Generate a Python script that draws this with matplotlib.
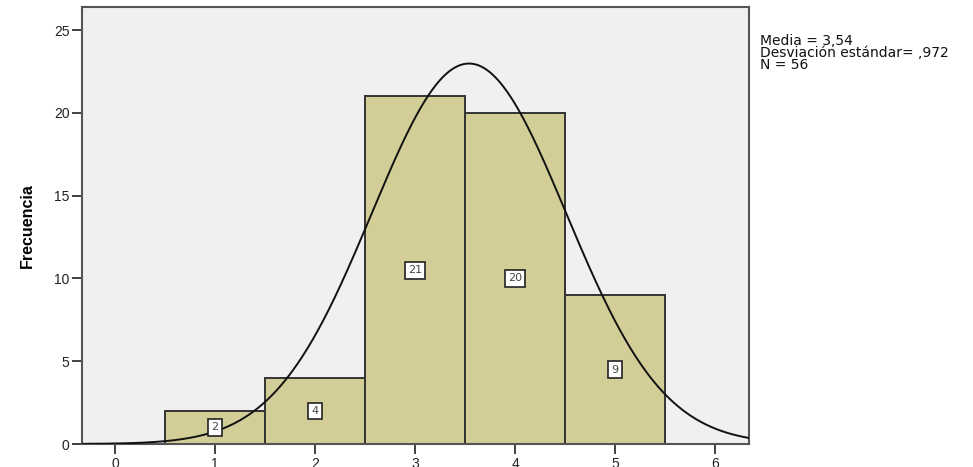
import numpy as np
import matplotlib
matplotlib.use("Agg")
import matplotlib.pyplot as plt

plt.rcParams['font.family'] = ['Liberation Sans', 'DejaVu Sans']

bin_centers = [1, 2, 3, 4, 5]
counts = [2, 4, 21, 20, 9]
mean_val = 3.54
std_val = 0.972
n_total = 56
stats_lines = ["Media = 3,54", "Desviación estándar= ,972", "N = 56"]
x_ticks = [0, 1, 2, 3, 4, 5, 6]
y_ticks = [0, 5, 10, 15, 20, 25]

fig = plt.figure(figsize=(9.73, 4.67), dpi=100)
ax = fig.add_axes([82/973, 23/467, (749-82)/973, (444-7)/467])
ax.set_facecolor('#F0F0F0')

ax.bar(bin_centers, counts, width=1.0, color='#D3CE97', edgecolor='#333333', linewidth=1.4, zorder=2)

xs = np.linspace(-0.33, 6.34, 500)
pdf = n_total * 1.0 / (std_val * np.sqrt(2 * np.pi)) * np.exp(-0.5 * ((xs - mean_val) / std_val) ** 2)
ax.plot(xs, pdf, color='#111111', linewidth=1.4, zorder=3)

for c, h in zip(bin_centers, counts):
    ax.text(c, h / 2, str(h), ha='center', va='center', fontsize=8, color='#444444', zorder=4,
            family=['DejaVu Sans'],
            bbox=dict(boxstyle='square,pad=0.3', facecolor='white', edgecolor='#222222', linewidth=1.2))

ax.set_xlim(-0.33, 6.34)
ax.set_ylim(0, 26.4)
ax.set_xticks(x_ticks)
ax.set_yticks(y_ticks)
ax.tick_params(axis='both', direction='out', length=7, width=1.3, color='#333333', labelsize=10,
               labelcolor='#222222', pad=2)
for s in ax.spines.values():
    s.set_color('#555555')
    s.set_linewidth(1.5)

ax.set_ylabel('Frecuencia', fontsize=11.5, fontweight='bold', labelpad=14)

fig.text(760/973, 1 - 53/467, "\n".join(stats_lines), fontsize=10, va='center', ha='left',
         color='#111111', linespacing=0.82, family=['DejaVu Sans'])

fig.savefig('out.png', dpi=100)
